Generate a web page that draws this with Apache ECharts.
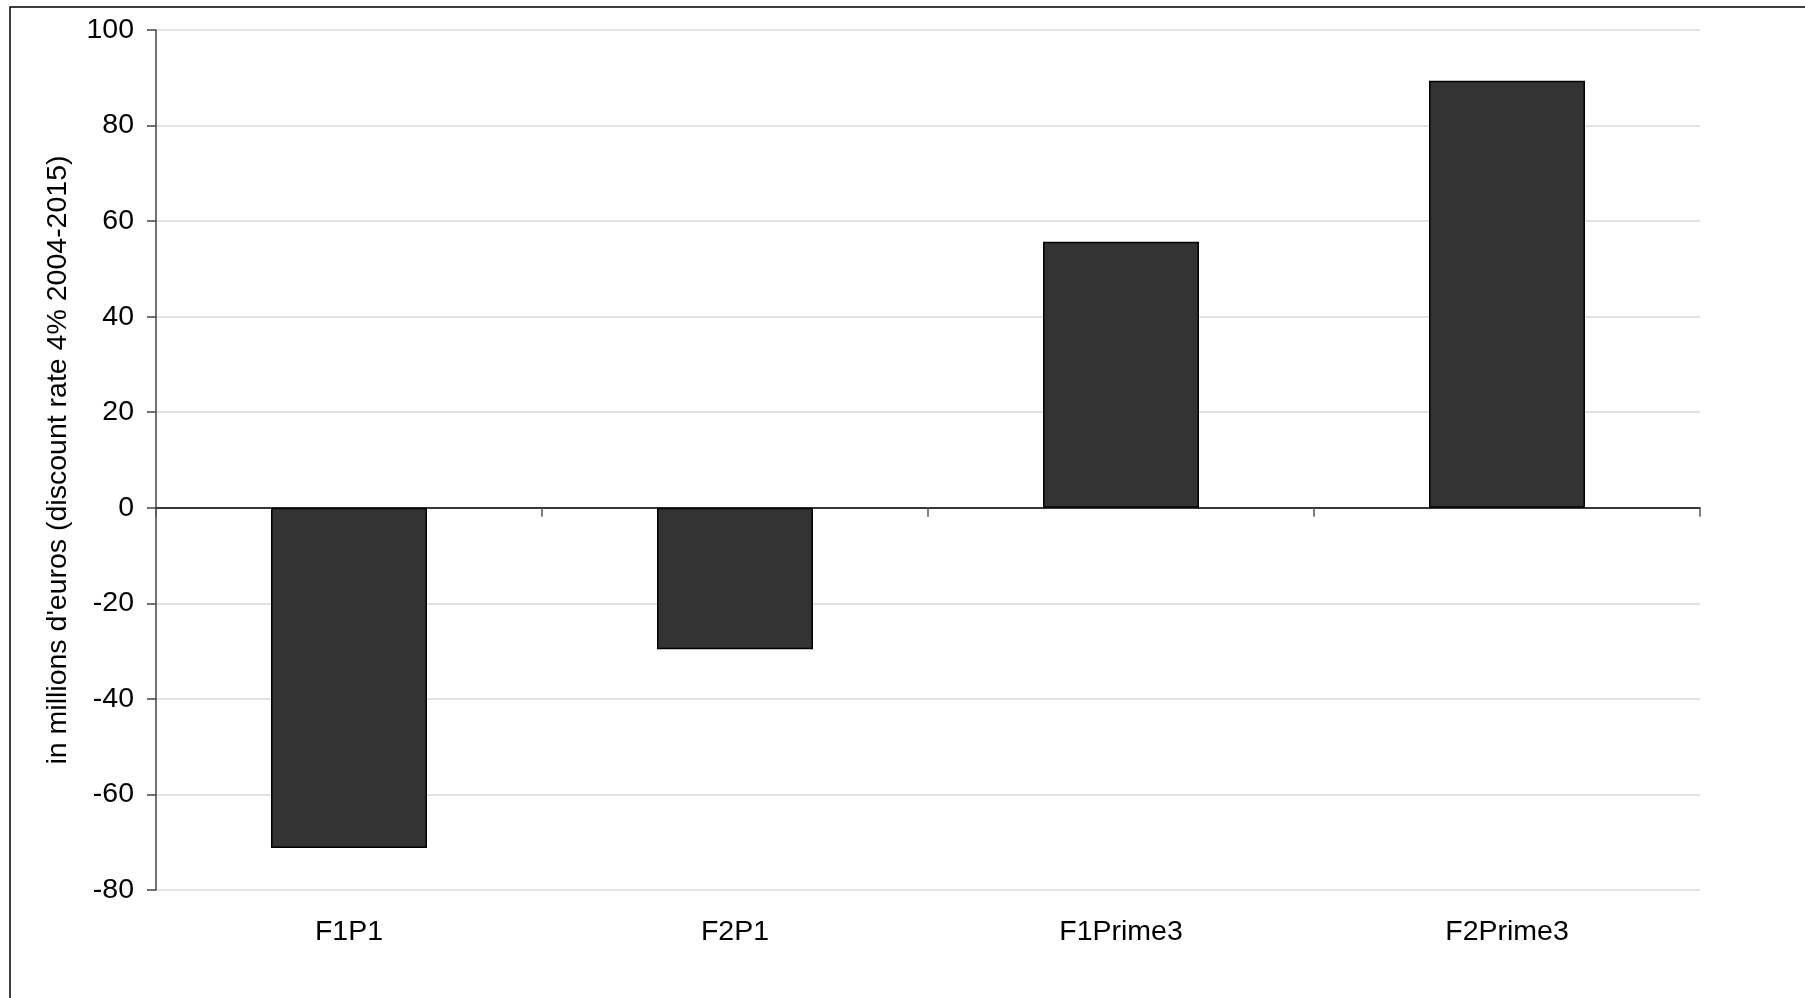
<!DOCTYPE html>
<html>
<head>
<meta charset="utf-8">
<script src="https://cdn.jsdelivr.net/npm/echarts@6/dist/echarts.min.js"></script>
<style>
  html, body { margin: 0; padding: 0; background: #fff; }
  #chart { width: 1805px; height: 998px; }
</style>
</head>
<body>
<div id="chart"></div>
<script>
const categories = ['F1P1', 'F2P1', 'F1Prime3', 'F2Prime3'];
const values = [-71.2, -29.6, 55.7, 89.4];
const yAxisName = "in millions d'euros (discount rate 4% 2004-2015)";

const chart = echarts.init(document.getElementById('chart'));
const font = '"Liberation Sans", Arial, sans-serif';

chart.setOption({
  backgroundColor: '#ffffff',
  animation: false,
  graphic: [{
    type: 'rect',
    shape: { x: 10, y: 7, width: 3000, height: 3000 },
    style: { fill: 'none', stroke: '#000', lineWidth: 1.5 },
    silent: true
  }],
  grid: { left: 156, top: 30, right: 105, bottom: 108 },
  xAxis: [{
    type: 'category',
    data: categories,
    position: 'bottom',
    axisLine: { show: false, onZero: false },
    axisTick: { show: false },
    axisLabel: { fontFamily: font, fontSize: 28.5, color: '#000', margin: 28 },
    splitLine: { show: false }
  }, {
    type: 'category',
    data: categories,
    position: 'bottom',
    axisLine: { show: true, onZero: true, lineStyle: { color: '#000', width: 1.5 } },
    axisTick: { show: true, length: 9, lineStyle: { color: '#555', width: 1.5 } },
    axisLabel: { show: false },
    splitLine: { show: false }
  }],
  yAxis: {
    type: 'value',
    min: -80, max: 100, interval: 20,
    name: yAxisName,
    nameLocation: 'middle',
    nameGap: 83,
    nameTextStyle: { fontFamily: font, fontSize: 28.5, color: '#000' },
    axisLine: { show: true, onZero: false, lineStyle: { color: '#444', width: 1.5 } },
    axisTick: { show: true, length: 9, lineStyle: { color: '#444', width: 1.5 } },
    axisLabel: { fontFamily: font, fontSize: 28.5, color: '#000', margin: 22 },
    splitLine: { show: true, lineStyle: { color: '#d9d9d9', width: 1.5 } }
  },
  series: [{
    type: 'bar',
    xAxisIndex: 0,
    data: values,
    barWidth: 156,
    itemStyle: { color: '#333333', borderColor: '#000', borderWidth: 1.5 }
  }]
});
</script>
</body>
</html>
